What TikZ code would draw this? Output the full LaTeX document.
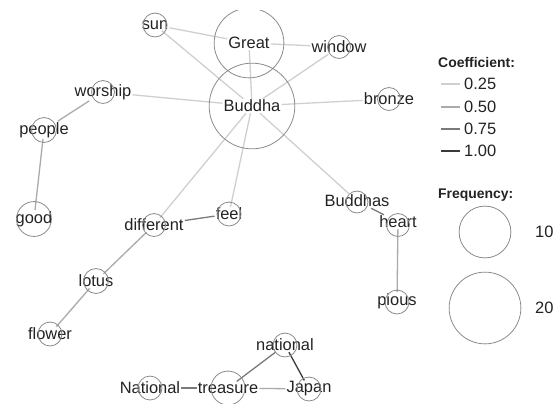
\documentclass[tikz,border=0pt]{standalone}
\usepackage{fontspec}
\setmainfont{Liberation Sans}
\usepackage{tikz}
\usetikzlibrary{positioning,calc}
\definecolor{kwtext}{HTML}{222222}
\definecolor{kwring}{HTML}{8A8A8A}
\definecolor{coa}{HTML}{CFCFCF}
\definecolor{cob}{HTML}{AAAAAA}
\definecolor{coc}{HTML}{7A7A7A}
\definecolor{cod}{HTML}{3A3A3A}
\tikzset{
  word/.style  ={inner sep=1bp, text=kwtext, font=\fontsize{16.5}{18}\selectfont},
  ring/.style  ={circle, draw=kwring, line width=0.8bp, inner sep=0pt},
  coA/.style   ={draw=coa, line width=1.3bp},
  coB/.style   ={draw=cob, line width=1.3bp},
  coC/.style   ={draw=coc, line width=1.3bp},
  coD/.style   ={draw=cod, line width=1.3bp},
  legh/.style  ={anchor=west, inner sep=0pt, text=kwtext, font=\fontsize{14}{16}\selectfont\bfseries},
  legt/.style  ={anchor=west, inner sep=0pt, text=kwtext, font=\fontsize{16.5}{18}\selectfont}
}
\begin{document}
\begin{tikzpicture}[x=1bp,y=-1bp]
  \useasboundingbox (0,0) rectangle (560,403);
  % --- words
  \node[word] (sun)      at (155,25)  {sun};
  \node[word] (great)    at (249,43)  {Great};
  \node[word] (window)   at (339,47)  {window};
  \node[word] (buddha)   at (252,106) {Buddha};
  \node[word] (bronze)   at (389,99)  {bronze};
  \node[word] (worship)  at (103,92)  {worship};
  \node[word] (people)   at (44,130)  {people};
  \node[word] (good)     at (34,219)  {good};
  \node[word] (diff)     at (154,225) {different};
  \node[word] (feel)     at (229,214) {feel};
  \node[word] (lotus)    at (96,281)  {lotus};
  \node[word] (flower)   at (50,334)  {flower};
  \node[word] (buddhas)  at (357,201) {Buddhas};
  \node[word] (heart)    at (398,222) {heart};
  \node[word] (pious)    at (397,301) {pious};
  \node[word] (natl)     at (285,345) {national};
  \node[word] (Natl)     at (150,388) {National};
  \node[word] (treasure) at (228,388) {treasure};
  \node[word] (japan)    at (309,389) {Japan};

  % --- co-occurrence edges
  \draw[coA] (sun)--(great);   \draw[coA] (sun)--(buddha);
  \draw[coA] (great)--(window); \draw[coA] (great)--(buddha);
  \draw[coA] (window)--(buddha); \draw[coA] (worship)--(buddha);
  \draw[coA] (buddha)--(bronze); \draw[coA] (buddha)--(diff);
  \draw[coA] (buddha)--(feel);  \draw[coA] (buddha)--(buddhas);
  \draw[coB] (worship)--(people); \draw[coB] (people)--(good);
  \draw[coB] (diff)--(lotus);   \draw[coB] (lotus)--(flower);
  \draw[coB] (heart)--(pious);
  \draw[coC] (diff)--(feel);    \draw[coC] (buddhas)--(heart);
  \draw[coC] (Natl)--(treasure); \draw[coC] (treasure)--(natl);
  \draw[coB] (treasure)--(japan);
  \draw[coD] (natl)--(japan);

  % --- frequency rings
  \begin{scope}
    \clip (0,10) rectangle (560,403);
    \foreach \w/\d/\yo in {sun/24/0, great/70/0, window/23/0, buddha/86/0, bronze/23/0,
                           worship/23/0, people/25/0, good/35/0, diff/23/0, feel/24/0,
                           lotus/25/0, flower/24/0, buddhas/22/1, heart/23/3, pious/24/1,
                           natl/24/0, Natl/24/0, treasure/34/0, japan/24/0}
      \node[ring, minimum size=\d] at ($(\w)+(0,\yo)$) {};
  \end{scope}

  % --- legend: coefficient
  \node[legh] (cohead) at (438,63) {Coefficient:};
  \node[legt] (c25) at (464,84)  {0.25};
  \node[legt] (c50) at (464,107) {0.50};
  \node[legt] (c75) at (464,129) {0.75};
  \node[legt] (c100) at (464,151) {1.00};
  \draw[coA] (c25.west)  ++(-4,0) -- ++(-19,0);
  \draw[coB] (c50.west)  ++(-4,0) -- ++(-19,0);
  \draw[coC] (c75.west)  ++(-4,0) -- ++(-19,0);
  \draw[coD] (c100.west) ++(-4,0) -- ++(-19,0);

  % --- legend: frequency
  \node[legh] (frhead) at (438,195) {Frequency:};
  \node[ring, minimum size=52] (f10) at (485,232) {};
  \node[ring, minimum size=72] (f20) at (485,308) {};
  \node[legt] (l10) at (535,232) {10};
  \node[legt] (l20) at (535,308) {20};
\end{tikzpicture}
\end{document}
